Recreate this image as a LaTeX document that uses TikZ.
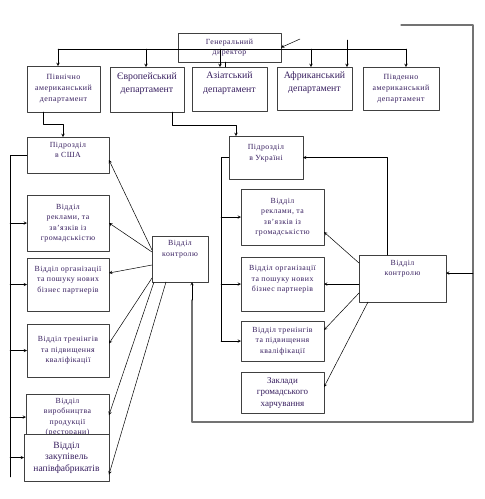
\documentclass[tikz,border=0pt]{standalone}
\usepackage{fontspec}
\setmainfont{Liberation Serif}
\newfontfamily\spacedfont[LetterSpace=6]{Liberation Serif}
\usepackage{tikz}
\usetikzlibrary{arrows}
\definecolor{txtcol}{RGB}{55,30,95}
\definecolor{framecol}{RGB}{115,115,115}

\tikzset{
  box/.style 2 args={draw=black!75, line width=0.9pt, fill=white, text=txtcol,
    align=center, inner sep=1pt, outer sep=0pt,
    minimum width=#1pt, minimum height=#2pt},
  smalltext/.style={font=\spacedfont\fontsize{7.8}{10.5}\selectfont},
  midtext/.style={font=\spacedfont\fontsize{7.9}{11}\selectfont},
  bigtext/.style={font=\fontsize{9.8}{13.5}\selectfont},
  link/.style={->, line width=0.5pt},
  outerline/.style={draw=framecol, line width=1.3pt},
}

\begin{document}
\begin{tikzpicture}[x=1pt, y=-1pt, line cap=round, line join=round, >=stealth]
  \useasboundingbox (0,0) rectangle (485,499);
  %--- Top level
    \node[box={103}{29}, smalltext] (dir) at (229.5,47.5) {Генеральний\\директор};
    \node[box={73}{46}, midtext] (na) at (63.5,89) {Північно\\американський\\департамент};
    \node[box={74}{45}, bigtext] (eu) at (147,89.5) {Європейський\\департамент\\~};
    \node[box={75}{44}, bigtext] (as) at (229.5,89) {Азіатський\\департамент\\~};
    \node[box={75}{43}, bigtext] (af) at (314.5,88.5) {Африканський\\департамент\\~};
    \node[box={76}{43}, midtext] (sa) at (401,88.5) {Південно\\американський\\департамент};
  %--- USA
    \node[box={82}{36}, smalltext] (usa) at (68,155) {Підрозділ\\в США\\~};
    \node[box={82}{56}, smalltext] (rekUS) at (68,223) {Відділ\\реклами, та\\зв’язків із\\громадськістю};
    \node[box={82}{53}, smalltext] (orgUS) at (68,284.5) {Відділ організації\\та пошуку нових\\бізнес партнерів\\~};
    \node[box={82}{53}, smalltext] (trnUS) at (68,350.5) {Відділ тренінгів\\та підвищення\\кваліфікації};
    \node[box={83}{46}, smalltext] (prodUS) at (67.5,417) {Відділ\\виробництва\\продукції\\(ресторани)};
    \node[box={85}{47}, font=\fontsize{9.5}{11.5}\selectfont] (buyUS) at (66.5,457.5) {Відділ\\закупівель\\напівфабрикатів};
    \node[box={56}{46}, smalltext] (ctrlUS) at (180,259) {Відділ\\контролю\\~\\~};
  %--- Ukraine
    \node[box={74}{43}, smalltext] (ua) at (266,157.5) {Підрозділ\\в Україні\\~};
    \node[box={83}{56}, smalltext] (rekUA) at (282.5,217) {Відділ\\реклами, та\\зв’язків із\\громадськістю};
    \node[box={83}{54}, smalltext] (orgUA) at (282.5,284) {Відділ організації\\та пошуку нових\\бізнес партнерів\\~};
    \node[box={83}{40}, smalltext] (trnUA) at (282.5,341) {Відділ тренінгів\\та підвищення\\кваліфікації};
    \node[box={83}{41}, font=\fontsize{9}{11.5}\selectfont] (food) at (282.5,392.5) {Заклади\\громадського\\харчування};
    \node[box={87}{47}, smalltext] (ctrlUA) at (402.5,278.5) {Відділ\\контролю\\~\\~};
  %--- Director to departments
    \coordinate (busL) at (58,49);
    \coordinate (busR) at (406,49);
    \draw (busL) -- (busR);
    \foreach \x/\d in {58/na, 146/eu, 220/as, 311/af, 406/sa}
      \draw[link] (\x,49) -- (\x,0 |- \d.north);
    \draw (225,0 |- dir.south) -- (225,0 |- as.north);
    \coordinate (inDir) at (300,39);
    \draw[link] (inDir) -- (dir.east);
    \coordinate (inAf) at (347,40);
    \draw[link] (inAf) -- (inAf |- af.north);
  %--- Departments to units
    \draw[link] (43,0 |- na.south) -- (43,124) -| ([xshift=-5pt]usa.north);
    \draw[link] (172,0 |- eu.south) -- (172,125) -| ([xshift=-30pt]ua.north);
  %--- USA bus
    \coordinate (busUS) at (10,477);
    \draw (usa.west) -| (busUS);
    \foreach \n in {rekUS, orgUS, trnUS, prodUS, buyUS}
      \draw[link] (\n.west -| busUS) -- (\n.west);
  %--- USA control
    \draw[link] ([yshift=9pt]ctrlUS.west) -- ([yshift=-5pt]usa.east);
    \draw[link] ([yshift=7pt]ctrlUS.west) -- (rekUS.east);
    \draw[link] ([yshift=-6pt]ctrlUS.west) -- ([yshift=11.5pt]orgUS.east);
    \draw[link] ([yshift=4pt]ctrlUS.south west) -- ([yshift=7pt]trnUS.east);
    \draw[link] ([xshift=2pt]ctrlUS.south west) -- ([yshift=2pt]prodUS.east);
    \draw[link] ([xshift=14pt]ctrlUS.south west) -- ([yshift=-17pt]buyUS.east);
  %--- Ukraine bus
    \coordinate (busUA) at (221,341);
    \draw (ua.west) -| (busUA);
    \foreach \n in {rekUA, orgUA, trnUA}
      \draw[link] (\n.west -| busUA) -- (\n.west);
  %--- Ukraine control
    \draw[link] ([xshift=-15.5pt]ctrlUA.north) |- (ua.east);
    \draw[link] ([yshift=15.5pt]ctrlUA.west) -- ([yshift=-15pt]rekUA.east);
    \draw[link] (ctrlUA.west |- orgUA.east) -- (orgUA.east);
    \draw[link] ([yshift=-14.5pt]ctrlUA.west) -- ([yshift=11pt]trnUA.east);
    \draw[link] ([xshift=9pt]ctrlUA.south west) -- ([yshift=5.5pt]food.east);
  %--- Outer loop
    \coordinate (fr1) at (401,25);
    \coordinate (fr2) at (473,25);
    \coordinate (fr3) at (473,422);
    \coordinate (fr4) at (192,422);
    \coordinate (fr5) at (192,300);
    \coordinate (fr6) at (473,273);
    \draw[outerline] (fr1) -- (fr2) -- (fr3) -- (fr4) -- (fr5);
    \draw[link] (fr5) -- (fr5 |- ctrlUS.south);
    \draw[link] (fr6) -- (fr6 -| ctrlUA.east);
\end{tikzpicture}
\end{document}
